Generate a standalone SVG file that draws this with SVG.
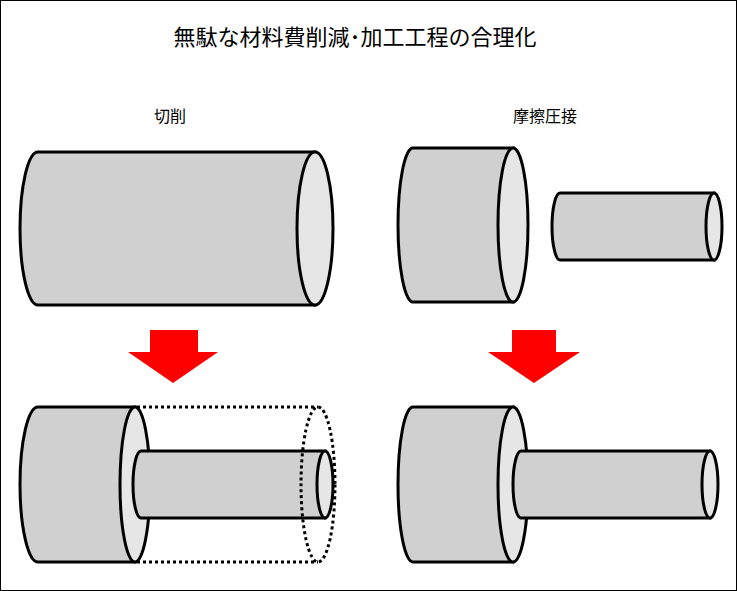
<svg xmlns="http://www.w3.org/2000/svg" width="737" height="591" viewBox="0 0 737 591">
<style>
.b{fill:#d0d0d0;stroke:#000;stroke-width:3}
.f{fill:#e6e6e6;stroke:#000;stroke-width:3}
.d{fill:none;stroke:#000;stroke-width:3;stroke-dasharray:3 3}
.t{font-family:"Noto Sans CJK JP",sans-serif;fill:#000}
.a{fill:#ff0000}
</style>
<rect x="0.5" y="0.5" width="736" height="590" fill="#fff" stroke="#000"/>
<text class="t" x="355" y="45" font-size="22" text-anchor="middle">無駄な材料費削減･加工工程の合理化</text>
<text class="t" x="170" y="122" font-size="16" text-anchor="middle">切削</text>
<text class="t" x="545" y="122" font-size="16" text-anchor="middle">摩擦圧接</text>
<g id="cut-before">
<path class="b" d="M38,152 H315 V305 H38 A18,76.5 0 0 1 38,152 Z"/>
<ellipse class="f" cx="315" cy="228.5" rx="18" ry="76.5"/>
</g>
<g id="fw-before-big">
<path class="b" d="M413,148 H513 V302 H413 A15,77 0 0 1 413,148 Z"/>
<ellipse class="f" cx="513" cy="225" rx="15" ry="77"/>
</g>
<g id="fw-before-small">
<path class="b" d="M560,193 H714 V260 H560 A8,33.5 0 0 1 560,193 Z"/>
<ellipse class="f" cx="714" cy="226.5" rx="8" ry="33.5"/>
</g>
<g id="arrows">
<polygon class="a" points="150,330 198,330 198,352 218,352 173,383 128,352 150,352"/>
<polygon class="a" points="512,330 556,330 556,352 580,352 534,383 488,352 512,352"/>
</g>
<g id="cut-after">
<path class="b" d="M38,407 H135 V562 H38 A18,77.5 0 0 1 38,407 Z"/>
<ellipse class="f" cx="135" cy="484.5" rx="15" ry="77.5"/>
<path class="b" d="M141,451 H325 V518 H141 A8,33.5 0 0 1 141,451 Z"/>
<ellipse class="f" cx="325" cy="484.5" rx="8" ry="33.5"/>
<path class="d" d="M137,407 H318 M137,562 H318"/>
<ellipse class="d" cx="318" cy="484.5" rx="17" ry="77.5"/>
</g>
<g id="fw-after">
<path class="b" d="M413,407 H513 V562 H413 A15,77.5 0 0 1 413,407 Z"/>
<ellipse class="f" cx="513" cy="484.5" rx="15" ry="77.5"/>
<path class="b" d="M521,451 H710 V518 H521 A8,33.5 0 0 1 521,451 Z"/>
<ellipse class="f" cx="710" cy="484.5" rx="8" ry="33.5"/>
</g>
</svg>
